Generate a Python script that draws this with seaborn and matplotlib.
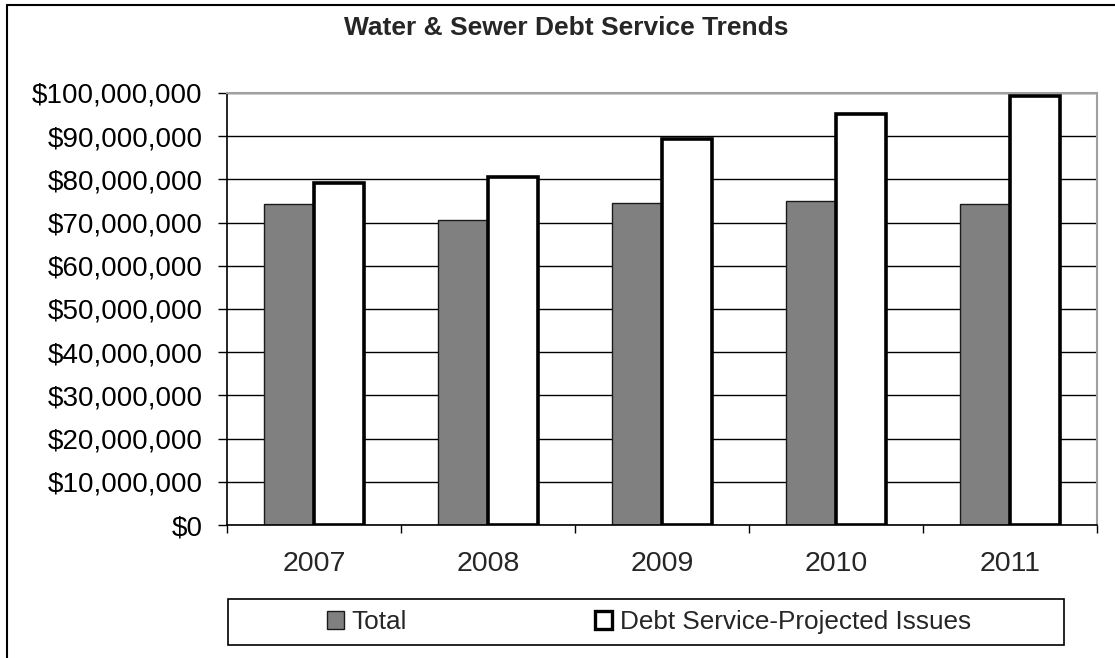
import matplotlib
matplotlib.use("Agg")
import matplotlib.pyplot as plt
import seaborn as sns
import pandas as pd
from matplotlib.patches import Patch, Rectangle
from matplotlib.lines import Line2D
from matplotlib.ticker import FuncFormatter, MultipleLocator

years = ["2007", "2008", "2009", "2010", "2011"]
total = [74.2e6, 70.5e6, 74.6e6, 75.1e6, 74.2e6]
projected = [79.1e6, 80.5e6, 89.4e6, 95.2e6, 99.3e6]
series_names = ["Total", "Debt Service-Projected Issues"]

df = pd.DataFrame({
    "Year": years * 2,
    "Value": total + projected,
    "Series": [series_names[0]] * len(years) + [series_names[1]] * len(years),
})

sns.set_style("white")
plt.rcParams["font.family"] = ["Liberation Sans", "DejaVu Sans"]

fig = plt.figure(figsize=(11.15, 6.58), dpi=100)
ax = fig.add_axes([227/1115, 1-525/658, (1097-227)/1115, (525-93)/658])

sns.barplot(data=df, x="Year", y="Value", hue="Series", ax=ax,
            palette={series_names[0]: "#808080", series_names[1]: "#ffffff"},
            width=0.58, dodge=True, legend=False, saturation=1)

for bar in ax.containers[0]:
    bar.set_edgecolor("#1a1a1a")
    bar.set_linewidth(1.0)
for bar in ax.containers[1]:
    bar.set_edgecolor("black")
    bar.set_linewidth(2.6)

ax.set_ylim(0, 100e6)
ax.set_xlim(-0.5, 4.5)
ax.yaxis.set_major_locator(MultipleLocator(10e6))
ax.yaxis.set_major_formatter(FuncFormatter(lambda v, p: "${:,.0f}".format(v)))
ax.grid(axis="y", color="black", linewidth=1.0)
ax.set_axisbelow(True)
ax.set_xlabel("")
ax.set_ylabel("")

for s in ["top", "right"]:
    ax.spines[s].set_color("#a0a0a0")
    ax.spines[s].set_linewidth(1.5)
for s in ["left", "bottom"]:
    ax.spines[s].set_color("black")
    ax.spines[s].set_linewidth(1.2)

ax.tick_params(axis="y", which="major", left=True, length=6.5, width=1, pad=11,
               labelsize=20, colors="black", direction="out")
ax.tick_params(axis="x", which="major", bottom=False, pad=15, labelsize=20.5)
ax.set_xticks([-0.5, 0.5, 1.5, 2.5, 3.5, 4.5], minor=True)
ax.tick_params(axis="x", which="minor", bottom=True, length=6, width=1, direction="out", color="black")

fig.text(566/1115, 1-28/658, "Water & Sewer Debt Service Trends", ha="center", va="center",
         fontsize=19, fontweight="bold")

# Legend box
fig.patches.append(Rectangle((228/1115, 1-645/658), (1064-228)/1115, (645-599)/658,
                             transform=fig.transFigure, facecolor="white",
                             edgecolor="black", linewidth=1.2))
handles = [Patch(facecolor="#808080", edgecolor="#1a1a1a", linewidth=1.0),
           Patch(facecolor="white", edgecolor="black", linewidth=2.4)]
fig.legend(handles, series_names, loc="center", bbox_to_anchor=(649/1115, 1-622/658),
           ncol=2, frameon=False, fontsize=18.8, handlelength=0.65, handleheight=0.65,
           handletextpad=0.3, columnspacing=7.2)

# Figure border
fig.add_artist(Line2D([7/1115, 7/1115], [0, 1-5/658], transform=fig.transFigure,
                      color="black", linewidth=1.5))
fig.add_artist(Line2D([7/1115, 1], [1-5/658, 1-5/658], transform=fig.transFigure,
                      color="black", linewidth=1.5))

fig.savefig("out.png", dpi=100)
